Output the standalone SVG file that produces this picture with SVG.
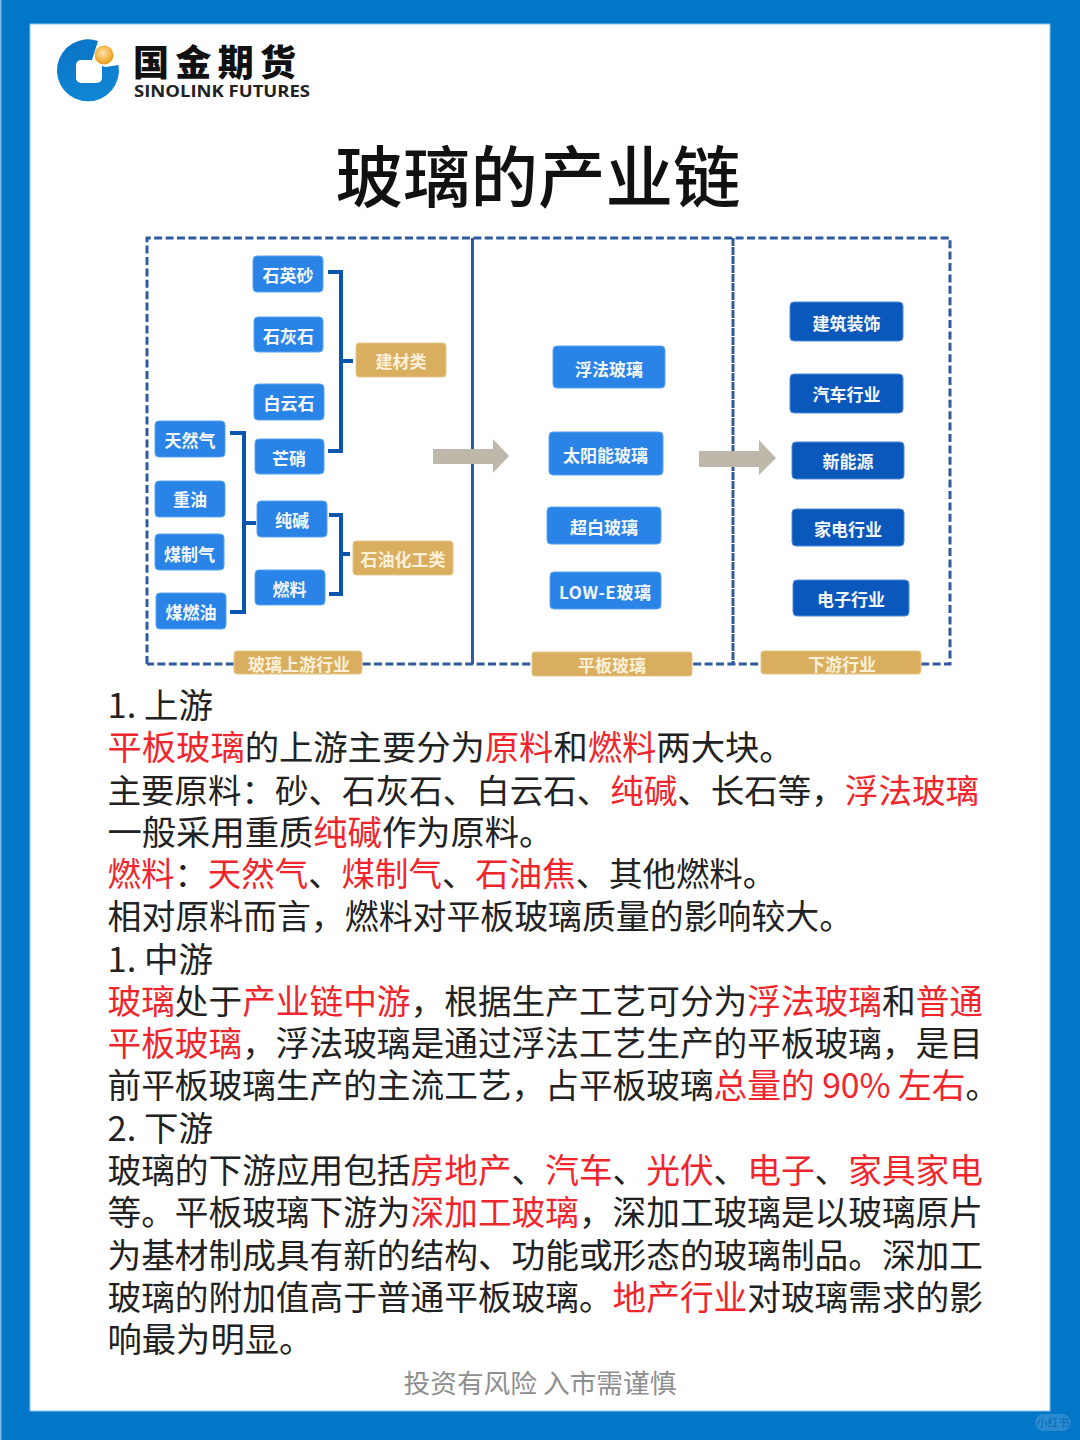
<svg xmlns="http://www.w3.org/2000/svg" width="1080" height="1440" viewBox="0 0 1080 1440">
<defs>
<radialGradient id="ball" cx="0.45" cy="0.4" r="0.6"><stop offset="0" stop-color="#fbe3ae"/><stop offset="0.6" stop-color="#f4b84a"/><stop offset="1" stop-color="#e79a1e"/></radialGradient>
<linearGradient id="ring" x1="0" y1="0" x2="0.3" y2="1"><stop offset="0" stop-color="#0a72c4"/><stop offset="1" stop-color="#0f86d4"/></linearGradient>
</defs>
<style>
text{font-family:"Noto Sans CJK SC","Noto Sans",sans-serif}
.a rect{fill:#2a84e8;stroke:#5aa3ee;stroke-width:1}
.b rect{fill:#0b58bd;stroke:#4f8ad6;stroke-width:1}
.c rect{fill:#d9ae5f;stroke:#e6c78d;stroke-width:1}
.a text,.b text{fill:#f4f8fd;font-size:17px;font-weight:700;text-anchor:middle}
.c text{fill:#fbf0d8;font-size:17px;font-weight:700;text-anchor:middle}
.dash{fill:none;stroke:#2f5b9e;stroke-width:3;stroke-dasharray:8 3.4}
.div{fill:none;stroke:#2f5b9e;stroke-width:3}
.br{fill:none;stroke:#0a55ad;stroke-width:4}
.arr{fill:#bdb8aa}
.t{font-size:33.68px;fill:#222}
.r{fill:#f0262c}
</style>
<rect width="1080" height="1440" fill="#0277c8"/>
<rect x="0" y="0" width="1.5" height="1440" fill="#7fbce6"/>
<rect x="30" y="24" width="1020" height="1387" fill="#fff" stroke="#8cc3ea" stroke-width="1"/>

<g id="logo">
<path fill="url(#ring)" d="M98,41 A31,31 0 1 0 118.500,65 L106,67 L102,66 L102,78 A5,5 0 0 1 97,83 L81,83 A5,5 0 0 1 76,78 L76,65 A5,5 0 0 1 81,60 L92,60 Z"/>
<circle cx="104" cy="55" r="9.500" fill="url(#ball)"/>
<text x="133" y="76" font-size="36" font-weight="900" fill="#111" textLength="163" lengthAdjust="spacing">国金期货</text>
<text x="134" y="97" font-size="16.500" font-weight="700" fill="#222" textLength="176" lengthAdjust="spacingAndGlyphs" style="font-family:'Open Sans','Noto Sans',sans-serif">SINOLINK FUTURES</text>
</g>

<text id="title" x="538" y="202" font-size="67.500" font-weight="500" fill="#111" text-anchor="middle">玻璃的产业链</text>

<g id="connectors">
<path class="dash" d="M147,664 V238 H950 V664 H147"/>
<path class="div" d="M472.500,238 V664"/>
<path class="div" d="M733,238 V664" stroke-dasharray="8 1"/>
<path class="br" d="M328,272 H341 V451 H328 M341,361 H353"/>
<path class="br" d="M329,515 H341 V594 H329 M341,554 H350"/>
<path class="br" d="M230,433 H244 V612 H230 M244,523 H256"/>
<path class="arr" d="M433,449 H493 V439 L509,456 L493,473 V464 H433 Z"/>
<path class="arr" d="M699,451 H759 V440 L776,458 L759,475 V467 H699 Z"/>
</g>

<g id="n-shiyingsha" class="a"><rect x="253" y="256" width="70" height="36" rx="4"/><text x="288" y="282">石英砂</text></g>
<g id="n-shihuishi" class="a"><rect x="254" y="317" width="69" height="35" rx="4"/><text x="288.500" y="342.500">石灰石</text></g>
<g id="n-baiyunshi" class="a"><rect x="254" y="384" width="70" height="36" rx="4"/><text x="289" y="410">白云石</text></g>
<g id="n-mangxiao" class="a"><rect x="255" y="439" width="69" height="35" rx="4"/><text x="289" y="464.500">芒硝</text></g>
<g id="n-chunjian" class="a"><rect x="257" y="501" width="70" height="36" rx="4"/><text x="292" y="527">纯碱</text></g>
<g id="n-ranliao" class="a"><rect x="255" y="570" width="70" height="35" rx="4"/><text x="289.500" y="596">燃料</text></g>
<g id="n-tianranqi" class="a"><rect x="155" y="421" width="70" height="36" rx="4"/><text x="190" y="447">天然气</text></g>
<g id="n-zhongyou" class="a"><rect x="155" y="481" width="70" height="36" rx="4"/><text x="190" y="506">重油</text></g>
<g id="n-meizhiqi" class="a"><rect x="155" y="534" width="69" height="36" rx="4"/><text x="189.500" y="561">煤制气</text></g>
<g id="n-meiranyou" class="a"><rect x="156" y="593" width="70" height="36" rx="4"/><text x="191" y="619">煤燃油</text></g>
<g id="n-jiancailei" class="c"><rect x="356" y="343" width="90" height="34" rx="3"/><text x="401" y="368">建材类</text></g>
<g id="n-shiyouhuagong" class="c"><rect x="353" y="541" width="100" height="34" rx="3"/><text x="403" y="566">石油化工类</text></g>
<g id="n-shangyou" class="c"><rect x="234" y="651" width="128" height="23" rx="3"/><text x="299" y="670.500">玻璃上游行业</text></g>
<g id="n-fufa" class="a"><rect x="553" y="346" width="112" height="42" rx="4"/><text x="609" y="375.500">浮法玻璃</text></g>
<g id="n-taiyangneng" class="a"><rect x="549" y="432" width="114" height="43" rx="4"/><text x="605.500" y="461.500">太阳能玻璃</text></g>
<g id="n-chaobai" class="a"><rect x="547" y="507" width="114" height="37" rx="4"/><text x="604" y="533.500">超白玻璃</text></g>
<g id="n-lowe" class="a"><rect x="550" y="572" width="111" height="37" rx="4"/><text x="605" y="598.500" textLength="92">LOW-E玻璃</text></g>
<g id="n-jianzhu" class="b"><rect x="790" y="302" width="113" height="39" rx="4"/><text x="846.500" y="329.500">建筑装饰</text></g>
<g id="n-qiche" class="b"><rect x="790" y="374" width="113" height="39" rx="4"/><text x="846.500" y="401">汽车行业</text></g>
<g id="n-xinnengyuan" class="b"><rect x="792" y="442" width="112" height="37" rx="4"/><text x="848" y="467.500">新能源</text></g>
<g id="n-jiadian" class="b"><rect x="792" y="509" width="112" height="37" rx="4"/><text x="848" y="535.500">家电行业</text></g>
<g id="n-dianzi" class="b"><rect x="793" y="580" width="116" height="36" rx="4"/><text x="851" y="606">电子行业</text></g>
<g id="n-pingban" class="c"><rect x="532" y="652" width="160" height="24" rx="3"/><text x="612" y="671.500">平板玻璃</text></g>
<g id="n-xiayou" class="c"><rect x="761" y="651" width="160" height="23" rx="3"/><text x="842" y="670.500">下游行业</text></g>

<g id="body">
<text class="t" x="107.500" y="718" style="font-size:34.500px">1. 上游</text>
<text class="t" x="107.500" y="760" style="font-size:34.300px"><tspan class="r">平板玻璃</tspan>的上游主要分为<tspan class="r">原料</tspan>和<tspan class="r">燃料</tspan>两大块。</text>
<text class="t" x="107.500" y="803" style="font-size:33.520px">主要原料：砂、石灰石、白云石、<tspan class="r">纯碱</tspan>、长石等，<tspan class="r">浮法玻璃</tspan></text>
<text class="t" x="107.500" y="845" style="font-size:34.300px">一般采用重质<tspan class="r">纯碱</tspan>作为原料。</text>
<text class="t" x="107.500" y="886" style="font-size:33.450px"><tspan class="r">燃料</tspan>：<tspan class="r">天然气</tspan>、<tspan class="r">煤制气</tspan>、<tspan class="r">石油焦</tspan>、其他燃料。</text>
<text class="t" x="107.500" y="929" style="font-size:33.900px">相对原料而言，燃料对平板玻璃质量的影响较大。</text>
<text class="t" x="107.500" y="972" style="font-size:34.500px">1. 中游</text>
<text class="t" x="107.500" y="1014"><tspan class="r">玻璃</tspan>处于<tspan class="r">产业链中游</tspan>，根据生产工艺可分为<tspan class="r">浮法玻璃</tspan>和<tspan class="r">普通</tspan></text>
<text class="t" x="107.500" y="1056"><tspan class="r">平板玻璃</tspan>，浮法玻璃是通过浮法工艺生产的平板玻璃，是目</text>
<text class="t" x="107.500" y="1098">前平板玻璃生产的主流工艺，占平板玻璃<tspan class="r">总量的 90% 左右</tspan>。</text>
<text class="t" x="107.500" y="1141" style="font-size:34.500px">2. 下游</text>
<text class="t" x="107.500" y="1183">玻璃的下游应用包括<tspan class="r">房地产</tspan>、<tspan class="r">汽车</tspan>、<tspan class="r">光伏</tspan>、<tspan class="r">电子</tspan>、<tspan class="r">家具家电</tspan></text>
<text class="t" x="107.500" y="1225">等。平板玻璃下游为<tspan class="r">深加工玻璃</tspan>，深加工玻璃是以玻璃原片</text>
<text class="t" x="107.500" y="1268">为基材制成具有新的结构、功能或形态的玻璃制品。深加工</text>
<text class="t" x="107.500" y="1310">玻璃的附加值高于普通平板玻璃。<tspan class="r">地产行业</tspan>对玻璃需求的影</text>
<text class="t" x="107.500" y="1352" style="font-size:34.300px">响最为明显。</text>
</g>

<text id="footer" x="540" y="1393" font-size="26.700" fill="#8f8f8f" text-anchor="middle">投资有风险 入市需谨慎</text>

<g id="watermark">
<rect x="1035" y="1414" width="36" height="17" rx="8.500" fill="#2a8ad0"/>
<text x="1053" y="1427" font-size="11" fill="#0a6cb4" text-anchor="middle">小红书</text>
</g>
</svg>
